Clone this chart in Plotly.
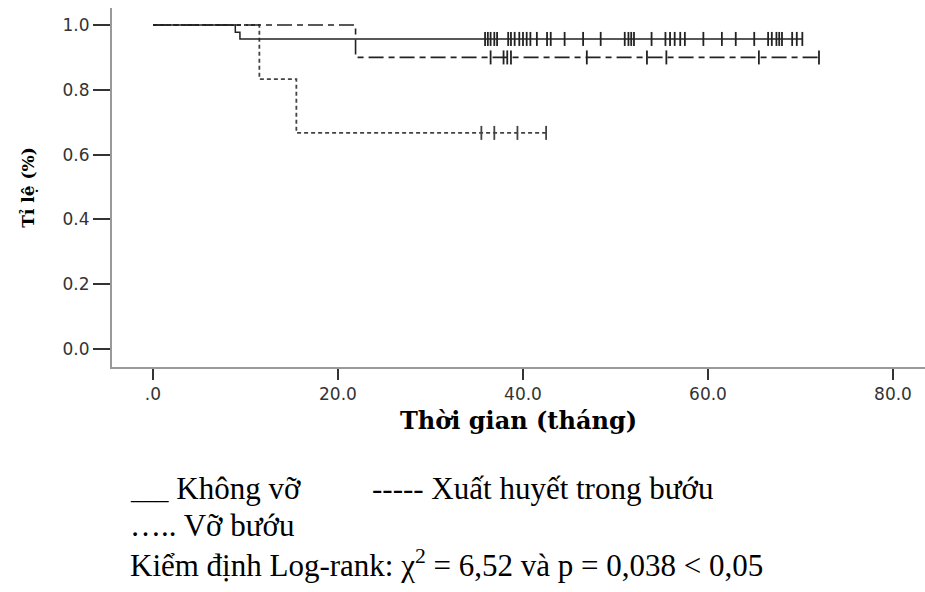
import plotly.graph_objects as go

# Kaplan-Meier curves: step times (months) and survival after each step
khong_vo_t = [0.0, 8.9, 9.4]
khong_vo_s = [1.0, 0.978, 0.957]
khong_vo_censor = [35.9, 36.2, 36.5, 36.9, 37.2, 38.4, 38.7, 39.1, 39.6, 40.0,
                   40.4, 40.8, 41.5, 42.6, 43.0, 44.5, 46.5, 48.4, 51.0, 51.4,
                   51.7, 52.0, 53.9, 55.4, 55.9, 56.4, 57.0, 57.5, 59.5, 61.5,
                   63.0, 65.0, 66.5, 66.9, 67.4, 67.7, 68.0, 69.1, 69.6, 70.2]

xuat_huyet_t = [0.0, 21.9]
xuat_huyet_s = [1.0, 0.9]
xuat_huyet_censor = [36.5, 37.9, 38.3, 38.7, 46.9, 53.4, 55.5, 65.5, 72.0]

vo_buou_t = [0.0, 11.5, 15.5]
vo_buou_s = [1.0, 0.833, 0.667]
vo_buou_censor = [35.5, 36.9, 39.4, 42.5]

x_tickvals = [0, 20, 40, 60, 80]
x_ticktext = [".0", "20.0", "40.0", "60.0", "80.0"]
y_tickvals = [0.0, 0.2, 0.4, 0.6, 0.8, 1.0]
y_ticktext = ["0.0", "0.2", "0.4", "0.6", "0.8", "1.0"]


def surv_at(t, times, surv):
    s = surv[0]
    for ti, si in zip(times, surv):
        if ti <= t:
            s = si
    return s


def add_curve(fig, times, surv, censor, color, dash, width):
    end = max(censor)
    fig.add_trace(go.Scatter(
        x=list(times) + [end], y=list(surv) + [surv[-1]],
        mode="lines", line=dict(color=color, width=width, dash=dash, shape="hv"),
        hoverinfo="skip", showlegend=False))
    fig.add_trace(go.Scatter(
        x=censor, y=[surv_at(c, times, surv) for c in censor],
        mode="markers",
        marker=dict(symbol="line-ns", size=10, line=dict(color=color, width=1.8)),
        hoverinfo="skip", showlegend=False))


fig = go.Figure()
add_curve(fig, vo_buou_t, vo_buou_s, vo_buou_censor, "#444444", "4px,3px", 1.8)
add_curve(fig, xuat_huyet_t, xuat_huyet_s, xuat_huyet_censor, "#222222", "15px,5px,6px,5px", 1.6)
add_curve(fig, khong_vo_t, khong_vo_s, khong_vo_censor, "#222222", "solid", 1.5)

# plot area spans pixels x 112..925, y 8..367
def px(xp):
    return (xp - 112) / 813.0


def py(yp):
    return (367 - yp) / 359.0


cap_font = dict(family="Liberation Serif, Times New Roman, serif", size=31, color="#000000")
captions = [
    ("<span style='font-size:25px'>___</span> Không vỡ", 128, 488),
    ("----- Xuất huyết trong bướu", 370, 488),
    ("….. Vỡ bướu", 128, 525),
    ("Kiểm định Log-rank: χ<sup>2</sup> = 6,52 và p = 0,038 &lt; 0,05", 128, 563),
]
annotations = [
    dict(text=t, x=px(x0), y=py(y0), xref="paper", yref="paper",
         xanchor="left", yanchor="middle", showarrow=False, font=cap_font)
    for t, x0, y0 in captions
]

title_font = dict(family="DejaVu Serif, serif", size=24, color="#000000", weight="bold")
tick_font = dict(family="DejaVu Sans, sans-serif", size=17, color="#333333")

fig.update_layout(
    width=925, height=592,
    margin=dict(l=112, r=0, t=8, b=225),
    paper_bgcolor="white", plot_bgcolor="white",
    showlegend=False,
    annotations=annotations,
    xaxis=dict(
        range=[-4.43, 83.46], tickvals=x_tickvals, ticktext=x_ticktext,
        showgrid=False, zeroline=False,
        showline=True, linecolor="#999999", linewidth=2,
        ticks="outside", ticklen=11, tickwidth=2, tickcolor="#333333",
        tickfont=tick_font,
        title=dict(text="Thời gian (tháng)", font=title_font, standoff=9),
    ),
    yaxis=dict(
        range=[-0.0556, 1.0525], tickvals=y_tickvals, ticktext=y_ticktext,
        showgrid=False, zeroline=False,
        showline=True, linecolor="#999999", linewidth=2,
        ticks="outside", ticklen=17, tickwidth=2, tickcolor="#333333",
        tickfont=tick_font,
        title=dict(text="Tỉ lệ (%)", font=dict(family="DejaVu Serif, serif", size=17,
                                                color="#000000", weight="bold"), standoff=24),
    ),
)

fig.write_html("out.html")
